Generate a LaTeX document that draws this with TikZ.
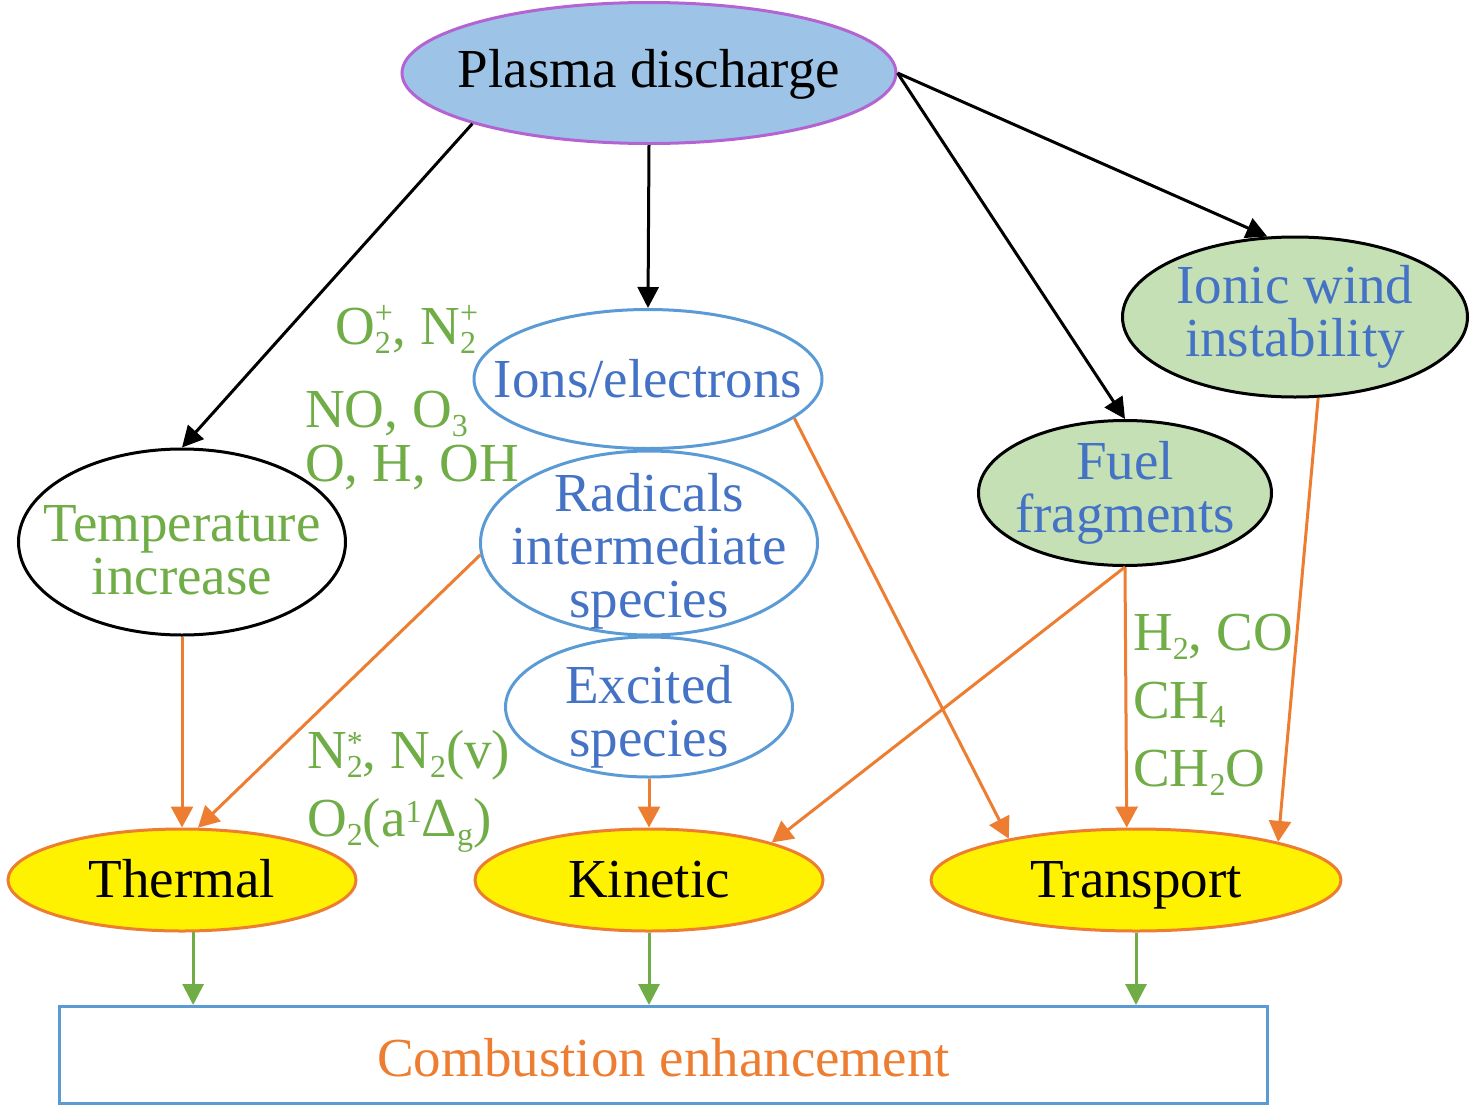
\documentclass[tikz,border=0pt]{standalone}
\usepackage{fontspec}
\setmainfont{Liberation Serif}
\usetikzlibrary{shapes.geometric,arrows.meta}
\definecolor{cgreen}{HTML}{70AD47}
\definecolor{cblue}{HTML}{4472C4}
\definecolor{corange}{HTML}{ED7D31}
\definecolor{cline}{HTML}{5B9BD5}
\definecolor{cpurple}{RGB}{180,100,210}
\definecolor{cskyfill}{HTML}{9DC3E6}
\definecolor{cleaf}{HTML}{C5E0B4}
\newcommand\mysub[1]{\raisebox{-0.17em}{\fontsize{32}{32}\selectfont #1}}
\newcommand\mysup[2][0.38em]{\raisebox{#1}{\fontsize{32}{32}\selectfont #2}}
\newcommand\mysubsup[3][0.38em]{\rlap{\mysub{#2}}\mysup[#1]{#3}}
\newcommand\toplift[1]{\rule{0pt}{#1}}
\begin{document}
\begin{tikzpicture}[x=1pt,y=-1pt,
  every node/.style={font=\fontsize{55}{53}\selectfont},
  ell/.style={ellipse, draw, line width=3pt, inner xsep=-400pt, inner ysep=-200pt, align=center},
  lbl/.style={text=cgreen, inner sep=0pt, anchor=base west},
  blk/.style={draw=black, line width=3pt, -{Triangle[length=21pt,width=21pt]}},
  org/.style={draw=corange, line width=3pt, -{Triangle[length=21pt,width=22pt]}},
  grn/.style={draw=cgreen, line width=3pt, -{Triangle[length=21pt,width=21pt]}}]
\useasboundingbox (0,0) rectangle (1476,1106);

% main ellipses
\node[ell, draw=cpurple, fill=cskyfill, minimum width=494pt, minimum height=141pt, text height=40pt, text depth=12pt] (plasma) at (649,73) {Plasma discharge};
\node[ell, draw=cline, text=cblue, minimum width=348pt, minimum height=139pt, text height=40pt, text depth=4pt] (ions) at (648,379) {Ions/electrons};
\node[ell, draw=cline, text=cblue, minimum width=337pt, minimum height=184pt] (radicals) at (649,543) {\toplift{54pt}Radicals\\intermediate\\species};
\node[ell, draw=cline, text=cblue, minimum width=287pt, minimum height=140pt] (excited) at (649,707) {\toplift{57pt}Excited\\species};
\node[ell, draw=black, text=cgreen, minimum width=327pt, minimum height=186pt] (temp) at (182,542) {\toplift{52pt}Temperature\\increase};
\node[ell, draw=black, fill=cleaf, text=cblue, minimum width=293pt, minimum height=145pt] (fuel) at (1125,493) {Fuel\\fragments};
\node[ell, draw=black, fill=cleaf, text=cblue, minimum width=345pt, minimum height=160pt] (ionic) at (1295,317) {Ionic wind\\instability};
\node[ell, draw=corange, fill=yellow, minimum width=348pt, minimum height=102pt, text height=40pt, text depth=6pt] (thermal) at (182,880) {Thermal};
\node[ell, draw=corange, fill=yellow, minimum width=348pt, minimum height=102pt, text height=40pt, text depth=6pt] (kinetic) at (649,880) {Kinetic};
\node[ell, draw=corange, fill=yellow, minimum width=410pt, minimum height=102pt, text height=40pt, text depth=6pt] (transport) at (1136,880) {Transport};
\node[draw=cline, line width=3pt, text=corange, minimum width=1208pt, minimum height=97pt, inner sep=0pt, text height=44pt, text depth=2pt] (box) at (663.5,1055) {Combustion enhancement};

% species labels
\node[lbl] (l1) at (335,344) {O\mysubsup{2}{+}, N\mysubsup{2}{+}};
\node[lbl] (l2) at (305,427) {NO, O\mysub{3}};
\node[lbl] (l3) at (305,481) {O, H, OH};
\node[lbl] (l4) at (307,768) {N\mysubsup[0.26em]{2}{*}, N\mysub{2}(v)};
\node[lbl] (l5) at (307,836) {O\mysub{2}(a\mysup[0.24em]{1}Δ\mysub{g})};
\node[lbl] (l6) at (1133,650) {H\mysub{2}, CO};
\node[lbl] (l7) at (1133,718) {CH\mysub{4}};
\node[lbl] (l8) at (1133,786) {CH\mysub{2}O};

% black arrows
\draw[blk] (plasma.196.5) -- (temp.north);
\draw[blk] (plasma.south) -- (ions.north);
\draw[blk] (plasma.east) -- (fuel.north);
\draw[blk] (plasma.east) -- (ionic.109);

% orange arrows
\draw[org] (temp.south) -- (thermal.north);
\draw[org] (radicals.184) -- (thermal.73);
\draw[org] (ions.-15) -- (transport.162);
\draw[org] (excited.south) -- (kinetic.north);
\draw[org] (fuel.south) -- (kinetic.17);
\draw[org] (fuel.south) -- (transport.100);
\draw[org] (ionic.-74) -- (transport.15);

% green arrows
\draw[grn] (thermal.-78) -- (thermal.-78 |- box.north);
\draw[grn] (kinetic.south) -- (box.north -| kinetic.south);
\draw[grn] (transport.south) -- (box.north -| transport.south);
\end{tikzpicture}
\end{document}
